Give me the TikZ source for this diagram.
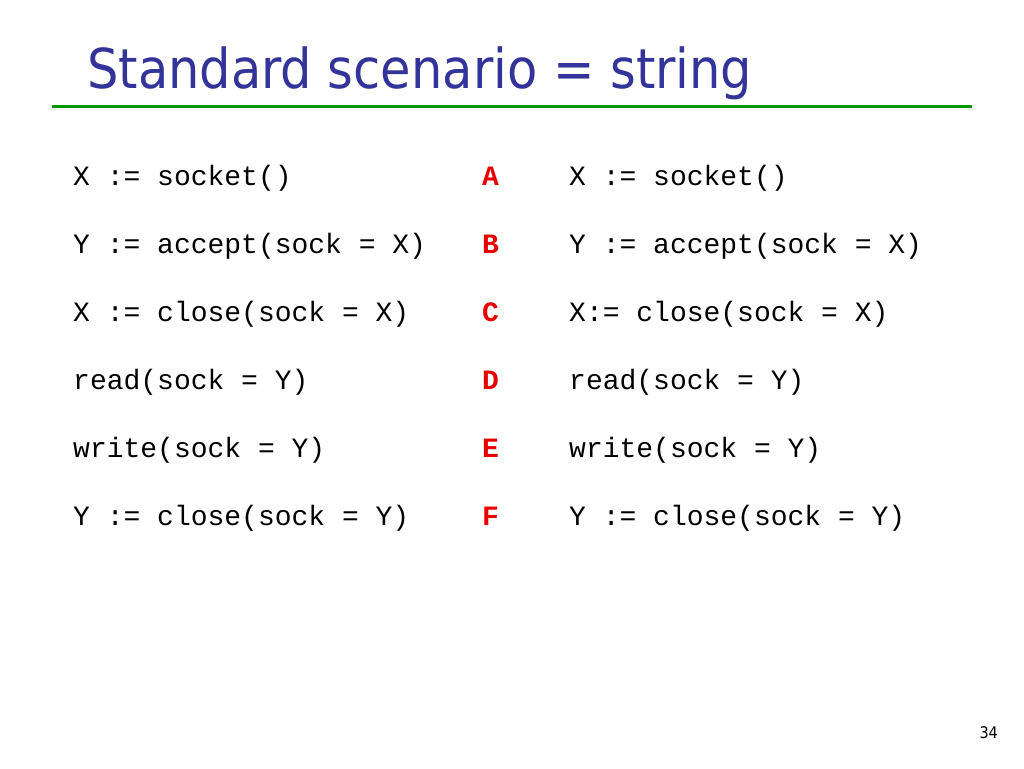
\documentclass[tikz,border=0pt]{standalone}
\usepackage{fontspec}
\setmainfont{DejaVu Sans Condensed}
\newfontfamily\codefont{Liberation Mono}
\definecolor{titleblue}{RGB}{51,51,153}
\definecolor{rulegreen}{RGB}{0,153,0}
\definecolor{labelred}{RGB}{230,0,0}
\begin{document}
\begin{tikzpicture}[x=1pt,y=-1pt,
    code/.style={anchor=base west,inner sep=0pt,font=\codefont\fontsize{28}{28}\selectfont},
    tag/.style={code,text=labelred,font=\codefont\bfseries\fontsize{28}{28}\selectfont}]
    \useasboundingbox (0,0) rectangle (1024,768);
    
    \node[anchor=base west,inner sep=0pt,text=titleblue,font=\fontsize{55}{55}\selectfont] (title) at (87,88) {Standard scenario = string};
    \draw[rulegreen,line width=3pt] (52,106) -- (972,106);
    
    \foreach \i/\lft/\tg/\rgt in {1/X := socket()/A/X := socket(),
        2/Y := accept(sock = X)/B/Y := accept(sock = X),
        3/X := close(sock = X)/C/X:= close(sock = X),
        4/read(sock = Y)/D/read(sock = Y),
        5/write(sock = Y)/E/write(sock = Y),
        6/Y := close(sock = Y)/F/Y := close(sock = Y)} {
        \node[code] (l\i) at (73,117+68*\i) {\lft};
        \node[tag] (t\i) at (482,117+68*\i) {\tg};
        \node[code] (r\i) at (569,117+68*\i) {\rgt};
    }
    
    \node[anchor=base east,inner sep=0pt,font=\fontsize{16}{16}\selectfont] (page) at (998,738) {34};
    
\end{tikzpicture}
\end{document}
